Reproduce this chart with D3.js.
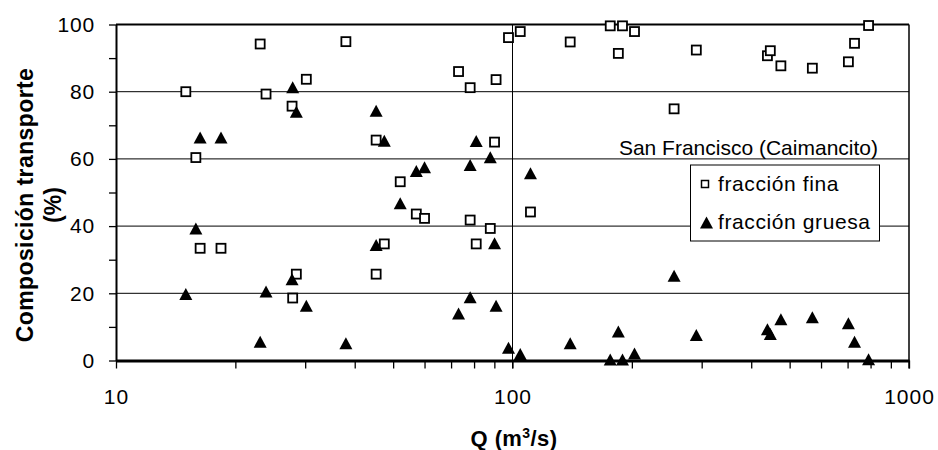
<!DOCTYPE html>
<html>
<head>
<meta charset="utf-8">
<script src="https://cdn.jsdelivr.net/npm/d3@7"></script>
<style>
body { margin: 0; background: #fff; }
text { font-family: "Liberation Sans", Arial, sans-serif; fill: #000; }
</style>
</head>
<body>
<script>
var width = 938;
var height = 450;

// caudal Q (m3/s) de cada muestra
var caudal = [15.0, 15.9, 16.3, 18.4, 23.1, 23.9, 27.8, 27.9, 28.5, 30.2,
              38.0, 45.3, 45.3, 47.5, 52.1, 57.2, 60.0, 73.1, 78.2, 78.2,
              81.0, 87.9, 90.1, 90.9, 97.7, 104.6, 111.0, 139.8, 176.4, 184.9,
              189.4, 203.1, 255.6, 290.8, 439.5, 446.9, 475.2, 570.5, 703.3, 728.8,
              790.7];
var fina = [80.0, 60.4, 33.4, 33.4, 94.2, 79.3, 75.7, 18.6, 25.7, 83.7,
            94.9, 65.6, 25.7, 34.7, 53.2, 43.6, 42.3, 86.0, 81.2, 41.8,
            34.7, 39.3, 65.0, 83.6, 96.1, 97.9, 44.2, 94.8, 99.6, 91.4,
            99.6, 97.9, 74.9, 92.4, 90.7, 92.2, 87.7, 87.0, 88.9, 94.4,
            99.7];
var gruesa = [19.8, 39.3, 66.4, 66.4, 5.6, 20.5, 24.2, 81.3, 74.0, 16.3,
              5.1, 34.4, 74.3, 65.4, 46.8, 56.4, 57.5, 14.0, 18.8, 58.2,
              65.3, 60.5, 34.9, 16.3, 3.8, 1.9, 55.7, 5.1, 0.3, 8.6,
              0.3, 2.1, 25.2, 7.6, 9.3, 7.9, 12.3, 12.9, 11.1, 5.6,
              0.4];

var xTicks = [10, 20, 30, 40, 50, 60, 70, 80, 90, 100, 200, 300, 400, 500, 600, 700, 800, 900, 1000];
var xLabels = [10, 100, 1000];
var yTicks = [0, 10, 20, 30, 40, 50, 60, 70, 80, 90, 100];
var yGrid = [20, 40, 60, 80];
var seriesNames = ["fracción fina", "fracción gruesa"];
var sitio = "San Francisco (Caimancito)";

var svg = d3.select("body").append("svg")
    .attr("width", width)
    .attr("height", height);

var x = d3.scaleLog().domain([10, 1000]).range([116, 909]);
var y = d3.scaleLinear().domain([0, 100]).range([360.5, 24.5]);

// lineas de grilla
svg.append("g").selectAll("line")
    .data(yGrid)
  .enter().append("line")
    .attr("x1", x(10)).attr("x2", x(1000))
    .attr("y1", d => y(d)).attr("y2", d => y(d))
    .attr("stroke", "#000").attr("stroke-width", 1);

svg.append("line")
    .attr("x1", x(100)).attr("x2", x(100))
    .attr("y1", y(100)).attr("y2", y(0) + 8)
    .attr("stroke", "#000").attr("stroke-width", 1);

// marco superior y derecho
svg.append("line")
    .attr("x1", x(10)).attr("x2", x(1000))
    .attr("y1", y(100)).attr("y2", y(100))
    .attr("stroke", "#000").attr("stroke-width", 2);
svg.append("line")
    .attr("x1", x(1000)).attr("x2", x(1000))
    .attr("y1", y(100)).attr("y2", y(0) + 8)
    .attr("stroke", "#000").attr("stroke-width", 1.5);

// ejes
var xAxis = d3.axisBottom(x)
    .tickValues(xTicks)
    .tickSizeInner(8)
    .tickSizeOuter(0)
    .tickPadding(21)
    .tickFormat(d => xLabels.indexOf(d) >= 0 ? d : "");

var gx = svg.append("g")
    .attr("transform", "translate(0," + y(0) + ")")
    .call(xAxis);
gx.select(".domain").attr("stroke-width", 3);
gx.selectAll(".tick line").attr("stroke-width", 1.3);
gx.selectAll("text")
    .attr("font-size", 21)
    .style("letter-spacing", "1px")
    .style("font-family", "'Liberation Sans', Arial, sans-serif");

var yAxis = d3.axisLeft(y)
    .tickValues(yTicks)
    .tickSizeInner(7)
    .tickSizeOuter(0)
    .tickPadding(14)
    .tickFormat(d => d % 20 === 0 ? d : "");

var gy = svg.append("g")
    .attr("transform", "translate(" + x(10) + ",0)")
    .call(yAxis);
gy.select(".domain").attr("stroke-width", 2);
gy.selectAll(".tick line").attr("stroke-width", 1.3);
gy.selectAll("text")
    .attr("font-size", 21)
    .style("letter-spacing", "0.8px")
    .style("font-family", "'Liberation Sans', Arial, sans-serif");

// titulos
var xt = svg.append("text")
    .attr("x", 514).attr("y", 446)
    .attr("text-anchor", "middle")
    .attr("font-size", 22).attr("font-weight", "bold")
    .style("letter-spacing", "0.4px");
xt.append("tspan").text("Q (m");
xt.append("tspan").attr("dy", -8).attr("font-size", 14).text("3");
xt.append("tspan").attr("dy", 8).text("/s)");

svg.append("text")
    .attr("transform", "translate(25,205) rotate(-90)")
    .attr("text-anchor", "middle")
    .attr("dominant-baseline", "central")
    .attr("font-size", 23).attr("font-weight", "bold")
    .style("letter-spacing", "0.4px")
    .text("Composición transporte");
svg.append("text")
    .attr("transform", "translate(53,205) rotate(-90)")
    .attr("text-anchor", "middle")
    .attr("dominant-baseline", "central")
    .attr("font-size", 23).attr("font-weight", "bold")
    .text("(%)");

// marcadores
function triangulo(b, h) {
  return "M0," + (-h / 2) + "L" + (b / 2) + "," + (h / 2) + "L" + (-b / 2) + "," + (h / 2) + "Z";
}

svg.append("g").selectAll("rect")
    .data(caudal)
  .enter().append("rect")
    .attr("x", (d, i) => x(d) - 4.5)
    .attr("y", (d, i) => y(fina[i]) - 4.5)
    .attr("width", 9).attr("height", 9)
    .attr("fill", "#fff").attr("stroke", "#000").attr("stroke-width", 1.8);

svg.append("g").selectAll("path")
    .data(caudal)
  .enter().append("path")
    .attr("transform", (d, i) => "translate(" + x(d) + "," + y(gruesa[i]) + ")")
    .attr("d", triangulo(13, 12))
    .attr("fill", "#000");

// anotacion
svg.append("text")
    .attr("x", 878).attr("y", 155)
    .attr("text-anchor", "end")
    .attr("font-size", 21)
    .text(sitio);

// leyenda
var leg = svg.append("g");
leg.append("rect")
    .attr("x", 690.5).attr("y", 165)
    .attr("width", 189).attr("height", 76)
    .attr("fill", "#fff").attr("stroke", "#000").attr("stroke-width", 1);
leg.append("rect")
    .attr("x", 701.5).attr("y", 180.5)
    .attr("width", 7).attr("height", 7)
    .attr("fill", "#fff").attr("stroke", "#000").attr("stroke-width", 1.5);
leg.append("path")
    .attr("transform", "translate(706.5,222.5)")
    .attr("d", triangulo(13, 12))
    .attr("fill", "#000");
leg.selectAll("text.lbl")
    .data(seriesNames)
  .enter().append("text")
    .attr("class", "lbl")
    .attr("x", 718)
    .attr("y", (d, i) => 191 + i * 38)
    .attr("font-size", 21)
    .style("letter-spacing", "0.6px")
    .text(d => d);
</script>
</body>
</html>
